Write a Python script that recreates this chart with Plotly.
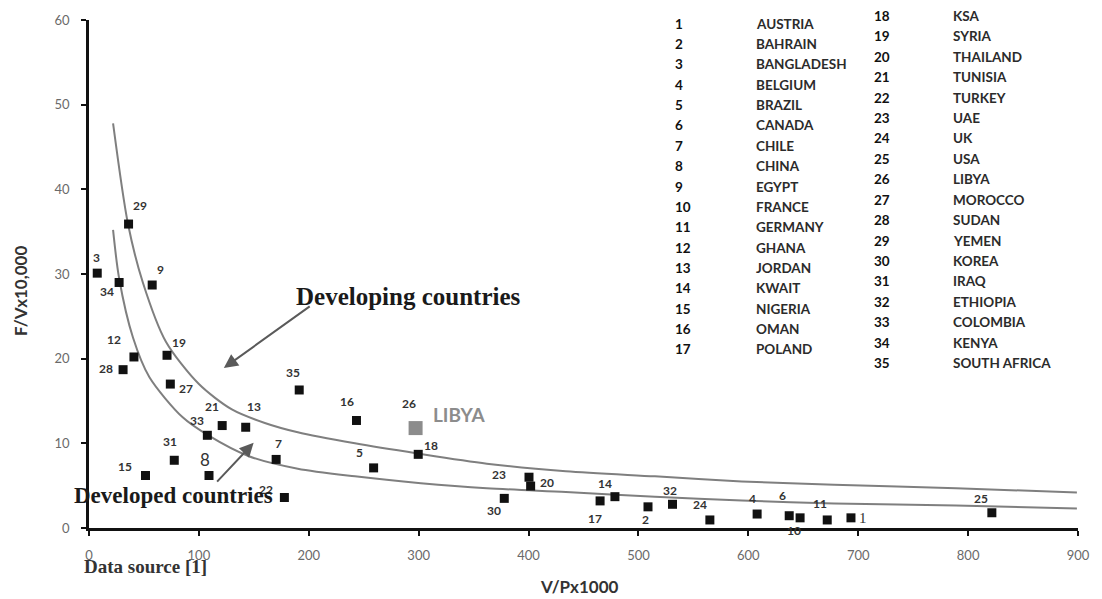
import plotly.graph_objects as go

# ---- data -------------------------------------------------------------
country_ids = list(range(1, 36))
country_names = [
    "AUSTRIA", "BAHRAIN", "BANGLADESH", "BELGIUM", "BRAZIL", "CANADA", "CHILE",
    "CHINA", "EGYPT", "FRANCE", "GERMANY", "GHANA", "JORDAN", "KWAIT", "NIGERIA",
    "OMAN", "POLAND", "KSA", "SYRIA", "THAILAND", "TUNISIA", "TURKEY", "UAE", "UK",
    "USA", "LIBYA", "MOROCCO", "SUDAN", "YEMEN", "KOREA", "IRAQ", "ETHIOPIA",
    "COLOMBIA", "KENYA", "SOUTH AFRICA",
]

# V/P x1000 for each country (same order as country_ids)
v_per_p = [693.4, 508.7, 7.5, 608.0, 259.0, 637.2, 170.3, 109.2, 57.5, 647.1,
           671.8, 40.9, 142.6, 478.6, 51.4, 243.4, 465.1, 299.6, 71.0, 401.9,
           121.2, 177.8, 400.4, 565.0, 821.6, 297.2, 74.0, 31.0, 36.0, 377.9,
           77.6, 531.0, 107.7, 27.4, 191.3]
# F/V x10,000 for each country
f_per_v = [1.2, 2.5, 30.1, 1.65, 7.1, 1.45, 8.1, 6.2, 28.7, 1.2,
           0.95, 20.2, 11.9, 3.7, 6.2, 12.7, 3.2, 8.7, 20.4, 4.95,
           12.1, 3.6, 6.0, 0.95, 1.8, 11.8, 17.0, 18.7, 35.9, 3.5,
           8.0, 2.8, 10.95, 29.0, 16.3]

highlight_id = 26  # Libya

# trend curves
developing_v = [21.9, 35.5, 49, 70, 100, 130, 160, 190, 242, 299, 362, 434, 515, 594, 678, 789, 899]
developing_f = [47.8, 35.9, 29.0, 22.0, 17.0, 14.0, 12.4, 11.3, 10.0, 8.8, 7.6, 6.7, 6.1, 5.5, 5.1, 4.7, 4.2]
developed_v = [21.9, 27.4, 40, 55, 85, 109, 145, 190, 242, 302, 362, 434, 515, 594, 678, 789, 899]
developed_f = [35.2, 29.5, 22.5, 17.8, 13.1, 10.9, 8.5, 7.0, 6.1, 5.3, 4.7, 4.25, 3.7, 3.25, 2.9, 2.65, 2.3]

x_ticks = [0, 100, 200, 300, 400, 500, 600, 700, 800, 900]
y_ticks = [0, 10, 20, 30, 40, 50, 60]

# ---- layout helpers ---------------------------------------------------
W, H = 1102, 599
L, R, T, B = 89, 16, 19, 71
PW, PH = W - L - R, H - T - B


def px_x(px):
    return (px - L) / PW


def px_y(py):
    return (H - B - py) / PH


SANS = "Lato, 'Open Sans', sans-serif"
SERIF = "'Liberation Serif', 'Times New Roman', serif"

# label placement around each marker (pixels: dx right, dy down)
label_offsets = {
    1: (12, 0), 2: (-3, 13), 3: (-1, -16), 4: (-5, -16), 5: (-14, -15),
    6: (-7, -20), 7: (2, -16), 8: (-4, -16), 9: (8, -16), 10: (-6, 13),
    11: (-7, -16), 12: (-20, -17), 13: (8, -21), 14: (-10, -13), 15: (-20, -9),
    16: (-9, -19), 17: (-5, 18), 18: (13, -9), 19: (12, -13), 20: (16, -4),
    21: (-10, -19), 22: (-18, -8), 23: (-30, -3), 24: (-10, -15), 25: (-11, -14),
    26: (-7, -25), 27: (16, 4), 28: (-17, -1), 29: (11, -19), 30: (-10, 12),
    31: (-4, -19), 32: (-3, -14), 33: (-10, -15), 34: (-12, 9), 35: (-6, -17),
}
label_fonts = {
    8: dict(family=SANS, size=17, color="#333333"),
    1: dict(family=SERIF, size=15, color="#333333"),
}

fig = go.Figure()

curve_style = dict(color="#7f7f7f", width=2, shape="spline", smoothing=0.8)
fig.add_trace(go.Scatter(x=developing_v, y=developing_f, mode="lines",
                         line=curve_style, hoverinfo="skip", showlegend=False))
fig.add_trace(go.Scatter(x=developed_v, y=developed_f, mode="lines",
                         line=curve_style, hoverinfo="skip", showlegend=False))

others = [i for i, c in enumerate(country_ids) if c != highlight_id]
fig.add_trace(go.Scatter(
    x=[v_per_p[i] for i in others], y=[f_per_v[i] for i in others],
    mode="markers", marker=dict(symbol="square", size=9, color="#111111"),
    text=[country_names[i] for i in others], showlegend=False))
hi = country_ids.index(highlight_id)
fig.add_trace(go.Scatter(
    x=[v_per_p[hi]], y=[f_per_v[hi]], mode="markers",
    marker=dict(symbol="square", size=14, color="#8c8c8c"),
    text=[country_names[hi]], showlegend=False))

annotations = []
for cid, v, f in zip(country_ids, v_per_p, f_per_v):
    dx, dy = label_offsets[cid]
    annotations.append(dict(
        x=v, y=f, xref="x", yref="y", text=str(cid), showarrow=False,
        xshift=dx, yshift=-dy,
        font=label_fonts.get(cid, dict(family=SANS, size=12, color="#333333", weight=700)),
    ))

# highlighted country name
annotations.append(dict(
    x=v_per_p[hi], y=f_per_v[hi], xref="x", yref="y", text=country_names[hi],
    showarrow=False, xanchor="left", xshift=15, yshift=14,
    font=dict(family=SANS, size=19, color="#8c8c8c", weight=700)))

# group captions with arrows
annotations.append(dict(
    x=122.7, y=18.9, ax=202.2, ay=26.3, xref="x", yref="y", axref="x", ayref="y",
    text="", showarrow=True, arrowhead=2, arrowsize=1.4, arrowwidth=2,
    arrowcolor="#5a5a5a"))
annotations.append(dict(
    x=149.8, y=10.06, ax=115.3, ay=5.3, xref="x", yref="y", axref="x", ayref="y",
    text="", showarrow=True, arrowhead=2, arrowsize=1.4, arrowwidth=2,
    arrowcolor="#5a5a5a"))
annotations.append(dict(
    x=px_x(296), y=px_y(296), xref="paper", yref="paper", text="Developing countries",
    showarrow=False, xanchor="left", yanchor="middle",
    font=dict(family=SERIF, size=25, color="#1a1a1a", weight=700)))
annotations.append(dict(
    x=px_x(72), y=px_y(495), xref="paper", yref="paper", text="Developed countries",
    showarrow=False, xanchor="left", yanchor="middle",
    font=dict(family=SERIF, size=23, color="#1a1a1a", weight=700)))
annotations.append(dict(
    x=px_x(82), y=px_y(567), xref="paper", yref="paper", text="Data source [1]",
    showarrow=False, xanchor="left", yanchor="middle",
    font=dict(family=SERIF, size=19, color="#333333", weight=700)))

# axis titles
annotations.append(dict(
    x=px_x(583), y=px_y(587), xref="paper", yref="paper", text="V/Px1000",
    showarrow=False, xanchor="center", yanchor="middle",
    font=dict(family=SANS, size=17, color="#333333", weight=700)))
annotations.append(dict(
    x=px_x(20), y=px_y(291), xref="paper", yref="paper", text="F/Vx10,000",
    showarrow=False, xanchor="center", yanchor="middle", textangle=-90,
    font=dict(family=SANS, size=17, color="#333333", weight=700)))

# country key, two columns
for i, (cid, name) in enumerate(zip(country_ids, country_names)):
    if cid <= 17:
        row_y = 22.7 + i * 20.4
        num_x, name_x = 678, 759
    else:
        row_y = 15 + (i - 17) * 20.45
        num_x, name_x = 878, 958
    annotations.append(dict(
        x=px_x(num_x), y=px_y(row_y), xref="paper", yref="paper", text=str(cid),
        showarrow=False, xanchor="left", yanchor="middle",
        font=dict(family=SANS, size=13.5, color="#111111", weight=700)))
    annotations.append(dict(
        x=px_x(name_x), y=px_y(row_y), xref="paper", yref="paper", text=name,
        showarrow=False, xanchor="left", yanchor="middle",
        font=dict(family=SANS, size=13.5, color="#2b2b2b", weight=700)))

axis_common = dict(
    showline=True, linewidth=2.5, linecolor="#111111", showgrid=False,
    zeroline=False, ticks="outside", ticklen=5, tickwidth=2, tickcolor="#111111",
    tickfont=dict(family=SANS, size=13, color="#6a6a6a"),
)

fig.update_layout(
    width=W, height=H, autosize=False,
    margin=dict(l=L, r=R, t=T, b=B),
    paper_bgcolor="white", plot_bgcolor="white",
    xaxis=dict(range=[0, 900], tickvals=x_ticks, ticklabelstandoff=9, **axis_common),
    yaxis=dict(range=[0, 60], tickvals=y_ticks, ticklabelstandoff=9, **axis_common),
    annotations=annotations,
    showlegend=False,
)

fig.write_html("out.html")
